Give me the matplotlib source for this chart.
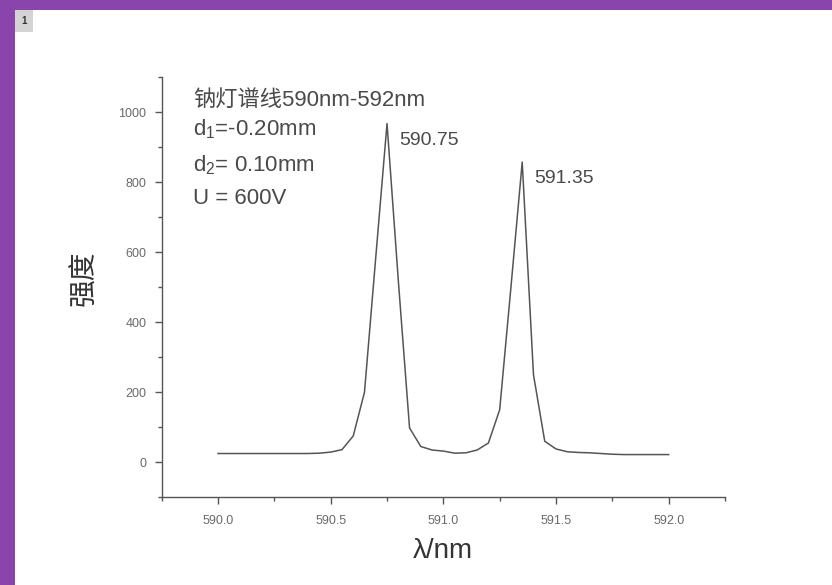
import matplotlib
matplotlib.use("Agg")
import matplotlib.pyplot as plt
from matplotlib.patches import Rectangle
from matplotlib.ticker import MultipleLocator

plt.rcParams['font.family'] = ['Liberation Sans', 'Noto Sans CJK SC', 'DejaVu Sans']
plt.rcParams['mathtext.fontset'] = 'custom'
plt.rcParams['mathtext.rm'] = 'Liberation Sans'
plt.rcParams['mathtext.default'] = 'regular'

# Sodium lamp spectrum, 590 nm - 592 nm
wavelength = [590.00, 590.05, 590.10, 590.15, 590.20, 590.25, 590.30, 590.35,
              590.40, 590.45, 590.50, 590.55, 590.60, 590.65, 590.70, 590.75,
              590.80, 590.85, 590.90, 590.95, 591.00, 591.05, 591.10, 591.15,
              591.20, 591.25, 591.30, 591.35, 591.40, 591.45, 591.50, 591.55,
              591.60, 591.65, 591.70, 591.75, 591.80, 591.85, 591.90, 591.95,
              592.00]
intensity = [25, 25, 25, 25, 25, 25, 25, 25,
             25, 26, 29, 36, 75, 200, 585, 967,
             520, 98, 45, 35, 32, 26, 27, 35,
             55, 150, 500, 857, 250, 60, 38, 30,
             28, 27, 25, 23, 22, 22, 22, 22,
             22]

peak_labels = ["590.75", "591.35"]
peak_positions = [590.75, 591.35]
peak_values = [967, 857]

info_lines = ["钠灯谱线590nm-592nm", r"d$_1$=-0.20mm", r"d$_2$= 0.10mm", "U = 600V"]

x_label = "λ/nm"
y_label = "强度"

purple = '#8a45ad'
ink = '#4a4a4a'
tick_ink = '#6a6a6a'

fig = plt.figure(figsize=(8.32, 5.85), dpi=100, facecolor=purple)

# white page with a small numbered tag, drawn on a background axes
bg = fig.add_axes([0, 0, 1, 1], zorder=-10)
bg.set_xlim(0, 832)
bg.set_ylim(585, 0)
bg.axis('off')
bg.add_patch(Rectangle((15, 10), 832 - 15, 585 - 10, facecolor='white',
                       edgecolor='none'))
bg.add_patch(Rectangle((15, 10), 18, 22, facecolor='#d4d4d4', edgecolor='none'))
bg.text(24, 21, "1", ha='center', va='center', fontsize=7, fontweight='bold',
        color='#333333')

ax = fig.add_axes([161.7 / 832, (585 - 497.3) / 585,
                   (725 - 161.7) / 832, (497.3 - 77) / 585])
ax.set_facecolor('none')

ax.plot(wavelength, intensity, color='#555555', lw=1.1)

ax.set_xlim(589.75, 592.25)
ax.set_ylim(-100, 1100)
ax.xaxis.set_minor_locator(MultipleLocator(0.25))
ax.yaxis.set_minor_locator(MultipleLocator(100))
ax.set_xticks([590.0, 590.5, 591.0, 591.5, 592.0])
ax.set_xticklabels(["590.0", "590.5", "591.0", "591.5", "592.0"])
ax.set_yticks([0, 200, 400, 600, 800, 1000])
ax.set_yticklabels(["0", "200", "400", "600", "800", "1000"])

for side in ('top', 'right'):
    ax.spines[side].set_visible(False)
for side in ('left', 'bottom'):
    ax.spines[side].set_color('#555555')
    ax.spines[side].set_linewidth(1.0)

ax.tick_params(which='major', direction='out', length=5, width=1.0,
               color='#555555', labelsize=9, labelcolor=tick_ink)
ax.tick_params(which='minor', direction='out', length=3, width=1.0,
               color='#555555')
ax.tick_params(axis='x', which='major', pad=8)
ax.tick_params(axis='y', which='major', pad=6)

ax.set_xlabel(x_label, fontsize=20, color='#333333', labelpad=8)
ax.set_ylabel(y_label, fontsize=20, color='#333333')
ax.yaxis.set_label_coords(-0.113, 0.52)

for lab, px, pv in zip(peak_labels, peak_positions, peak_values):
    ax.annotate(lab, xy=(px, pv), xytext=(9, -12), textcoords='offset points',
                fontsize=14, color=ink, ha='left', va='center')

line_y = [101.7, 129.3, 165.0, 198.3]
for txt, yy in zip(info_lines, line_y):
    fig.text(193 / 832, (585 - yy) / 585, txt, fontsize=16, color=ink,
             ha='left', va='center')

fig.savefig("out.png", dpi=100, facecolor=fig.get_facecolor())
